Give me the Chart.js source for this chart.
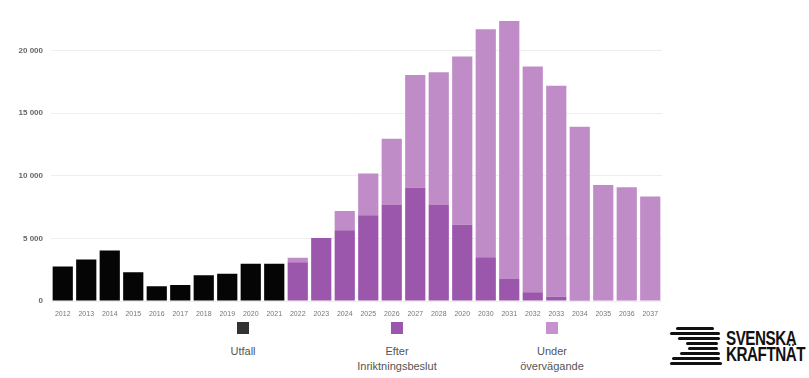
<!DOCTYPE html>
<html>
<head>
<meta charset="utf-8">
<script src="https://cdn.jsdelivr.net/npm/chart.js@4/dist/chart.umd.min.js"></script>
<style>
  body { margin: 0; background: #fff; font-family: "Liberation Sans", Arial, sans-serif; }
  #wrap { position: relative; width: 809px; height: 378px; overflow: hidden; }
  #chartBox { position: absolute; left: 0; top: 0; width: 809px; height: 318px; }
  .leg { position: absolute; top: 322px; width: 140px; text-align: center; color: #555; font-size: 11px; line-height: 15px; }
  .leg .sw { width: 12px; height: 12px; margin: 0 auto 10px auto; }
  #logo { position: absolute; left: 668px; top: 324px; width: 141px; height: 44px; }
  #logo .st { position: absolute; height: 3px; background: #111; border-radius: 2px; }
  #logo .txt { position: absolute; left: 58px; top: 6px; font-weight: bold; font-size: 20px; line-height: 16px; color: #111; letter-spacing: -0.6px; transform: scaleX(0.76); transform-origin: left top; white-space: nowrap; }
</style>
</head>
<body>
<div id="wrap">
  <div id="chartBox"><canvas id="elChart"></canvas></div>
  <div class="leg" style="left:173px"><div class="sw" style="background:#333"></div>Utfall</div>
  <div class="leg" style="left:327px"><div class="sw" style="background:#9b57ab"></div>Efter<br>Inriktningsbeslut</div>
  <div class="leg" style="left:482px"><div class="sw" style="background:#c592cd"></div>Under<br>övervägande</div>
  <div id="logo">
    <div class="st" style="left:8px;top:3px;width:38px"></div>
    <div class="st" style="left:2px;top:8px;width:50px"></div>
    <div class="st" style="left:10px;top:13px;width:42px"></div>
    <div class="st" style="left:18px;top:18px;width:32px"></div>
    <div class="st" style="left:20px;top:23px;width:30px"></div>
    <div class="st" style="left:12px;top:28px;width:40px"></div>
    <div class="st" style="left:4px;top:33px;width:48px"></div>
    <div class="st" style="left:2px;top:38px;width:52px"></div>
    <div class="txt">SVENSKA<br>KRAFTNÄT</div>
  </div>
</div>
<script>
// x-axis labels (as printed in the source, incl. "2020" where 2029 belongs)
const years = ["2012", "2013", "2014", "2015", "2016", "2017", "2018", "2019", "2020", "2021",
  "2022", "2023", "2024", "2025", "2026", "2027", "2028", "2020", "2030", "2031",
  "2032", "2033", "2034", "2035", "2036", "2037"];

// Utfall (historical)
const utfall = [2760, 3320, 4040, 2300, 1170, 1280, 2050, 2170, 2970, 2970,
  null, null, null, null, null, null, null, null, null, null, null, null, null, null, null, null];

// Efter inriktningsbeslut
const efter = [null, null, null, null, null, null, null, null, null, null,
  3090, 5030, 5650, 6840, 7710, 9040, 7710, 6080, 3500, 1760, 690, 330, 80, 50, 50, 30];

// Under övervägande (stacked on top of efter)
const under = [null, null, null, null, null, null, null, null, null, null,
  360, 0, 1530, 3330, 5240, 8990, 10550, 13440, 18190, 20590, 18030, 16840, 13820, 9200, 9020, 8300];

const yTicks = [0, 5000, 10000, 15000, 20000];

function fmt(v) {
  return String(v).replace(/\B(?=(\d{3})+(?!\d))/g, " ");
}

new Chart(document.getElementById("elChart"), {
  type: 'bar',
  data: {
    labels: years,
    datasets: [
      { label: "Utfall", data: utfall, backgroundColor: "#050505" },
      { label: "Efter Inriktningsbeslut", data: efter, backgroundColor: "#9b57ab" },
      { label: "Under övervägande", data: under, backgroundColor: "#c08cc8" }
    ]
  },
  options: {
    responsive: true,
    maintainAspectRatio: false,
    animation: false,
    layout: { padding: { top: 1, right: 147, bottom: 0, left: 0 } },
    datasets: {
      bar: { barPercentage: 0.86, categoryPercentage: 1 }
    },
    plugins: {
      legend: { display: false },
      tooltip: { enabled: false }
    },
    scales: {
      x: {
        stacked: true,
        grid: { display: false },
        border: { display: false },
        ticks: {
          autoSkip: false,
          maxRotation: 0,
          padding: 1,
          color: "#777",
          font: { family: "Liberation Sans", size: 7 }
        },
        afterFit: function(s) { s.height = 17; }
      },
      y: {
        stacked: true,
        min: 0,
        max: 23000,
        border: { display: false },
        grid: { color: "#eeeeee", drawTicks: false },
        afterBuildTicks: function(s) {
          s.ticks = yTicks.map(function(v) { return { value: v }; });
        },
        ticks: {
          autoSkip: false,
          padding: 8,
          color: "#666",
          font: { family: "Liberation Sans", size: 8, weight: "bold" },
          callback: function(v) { return fmt(v); }
        },
        afterFit: function(s) { s.width = 51; }
      }
    }
  }
});
</script>
</body>
</html>
